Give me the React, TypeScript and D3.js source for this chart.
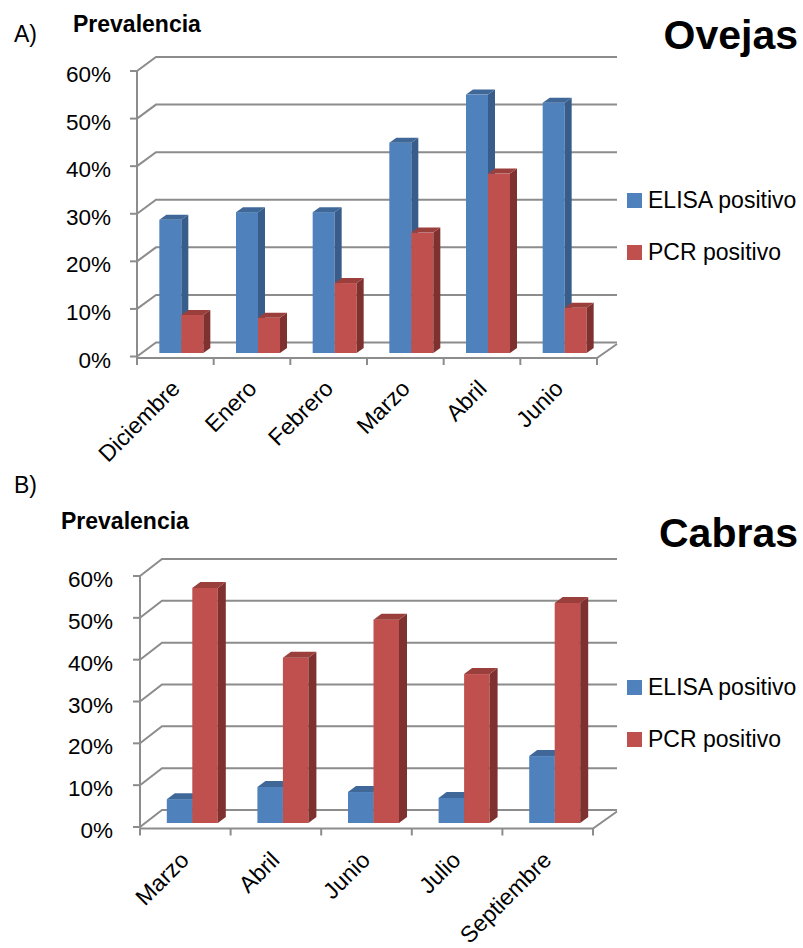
import React from 'react';
import * as d3 from 'd3';

// ---- Data ----
const ovejasCategories = ['Diciembre', 'Enero', 'Febrero', 'Marzo', 'Abril', 'Junio'];
const ovejasElisa = [0.28, 0.296, 0.296, 0.442, 0.543, 0.526];
const ovejasPcr = [0.08, 0.074, 0.147, 0.253, 0.377, 0.095];

const cabrasCategories = ['Marzo', 'Abril', 'Junio', 'Julio', 'Septiembre'];
const cabrasElisa = [0.057, 0.086, 0.074, 0.06, 0.16];
const cabrasPcr = [0.562, 0.395, 0.486, 0.356, 0.526];

const yTicks = [0, 0.1, 0.2, 0.3, 0.4, 0.5, 0.6];
const seriesNames = ['ELISA positivo', 'PCR positivo'];
const yTitle = 'Prevalencia';

// ---- Styles ----
const FONT = '"Liberation Sans", Arial, sans-serif';
const GRID = '#8c8c8c';
const COLORS = {
  'ELISA positivo': { front: '#4F81BD', side: '#385D8A', top: '#3F6899' },
  'PCR positivo': { front: '#C0504D', side: '#7E312F', top: '#9A3F3C' },
};

type Cfg = {
  letter: string; letterY: number; ytitleX: number; ytitleY: number;
  title: string; titleY: number; titleSize: number;
  x0: number; x1: number; yBottom: number; yTop: number;
  dx: number; dy: number; backX: number;
  barW: number; barDx: number; barDy: number; sx: number; sy: number;
  tickLabelX: number; legendY: number[]; labelDx: number; labelDy: number;
};

function Panel({ cfg, categories, elisa, pcr }: { cfg: Cfg; categories: string[]; elisa: number[]; pcr: number[] }) {
  const x = d3.scaleBand<string>().domain(categories).range([cfg.x0, cfg.x1]);
  const y = d3.scaleLinear().domain([0, 0.6]).range([cfg.yBottom, cfg.yTop]);
  const inner = d3.scaleBand<string>().domain(seriesNames).range([0, cfg.barW * 2]);
  const base = y(0) + cfg.barDy;
  const floorY = y(0) + 1.5;
  const boundaries = categories.map((c) => x(c) as number).concat([cfg.x1]);
  const fmt = d3.format('.0%');

  const bars: JSX.Element[] = [];
  categories.forEach((c, i) => {
    const gl = (x(c) as number) + x.bandwidth() / 2 - cfg.barW + cfg.barDx;
    [elisa[i], pcr[i]].forEach((v, k) => {
      const s = seriesNames[k];
      const col = COLORS[s];
      const l = gl + (inner(s) as number);
      const r = l + inner.bandwidth();
      const top = base - (y(0) - y(v));
      bars.push(
        <g key={c + s}>
          <rect x={l} y={top} width={r - l} height={base - top} fill={col.front} />
          <polygon
            points={`${r},${base} ${r + cfg.sx},${base + cfg.sy} ${r + cfg.sx},${top + cfg.sy} ${r},${top}`}
            fill={col.side}
          />
          <polygon
            points={`${l},${top} ${l + cfg.sx},${top + cfg.sy} ${r + cfg.sx},${top + cfg.sy} ${r},${top}`}
            fill={col.top}
          />
        </g>
      );
    });
  });

  return (
    <g>
      <text x={14} y={cfg.letterY} fontFamily={FONT} fontSize={23}>{cfg.letter}</text>
      <text x={cfg.ytitleX} y={cfg.ytitleY} fontFamily={FONT} fontSize={23} fontWeight="bold">{yTitle}</text>
      <text x={798} y={cfg.titleY} fontFamily={FONT} fontSize={cfg.titleSize} fontWeight="bold" textAnchor="end">{cfg.title}</text>

      {/* gridlines on side wall + back wall */}
      {yTicks.map((t) => (
        <g key={t}>
          <polyline
            points={`${cfg.x0},${y(t)} ${cfg.x0 + cfg.dx},${y(t) + cfg.dy} ${cfg.backX},${y(t) + cfg.dy}`}
            fill="none" stroke={GRID} strokeWidth={2}
          />
          <line x1={cfg.x0 - 7} x2={cfg.x0} y1={y(t)} y2={y(t)} stroke={GRID} strokeWidth={2} />
          <text x={cfg.tickLabelX} y={y(t) + 11} fontFamily={FONT} fontSize={22.5} textAnchor="end">{fmt(t)}</text>
        </g>
      ))}
      {/* vertical axis */}
      <line x1={cfg.x0} x2={cfg.x0} y1={y(0.6)} y2={floorY} stroke={GRID} strokeWidth={2} />
      {/* floor */}
      <polyline
        points={`${cfg.x0},${floorY} ${cfg.x1},${floorY} ${cfg.backX},${floorY + cfg.dy}`}
        fill="none" stroke={GRID} strokeWidth={2}
      />
      {boundaries.map((b, i) => (
        <line key={i} x1={b} x2={b} y1={floorY} y2={floorY + 7} stroke={GRID} strokeWidth={2} />
      ))}

      {bars}

      {/* category labels */}
      {categories.map((c) => {
        const cx = (x(c) as number) + x.bandwidth() / 2 + cfg.labelDx;
        const cy = floorY + cfg.labelDy;
        return (
          <text key={c} x={cx} y={cy} transform={`rotate(-45 ${cx} ${cy})`} textAnchor="end"
            fontFamily={FONT} fontSize={23}>{c}</text>
        );
      })}

      {/* legend */}
      {seriesNames.map((s, i) => (
        <g key={s}>
          <rect x={627} y={cfg.legendY[i] - 15} width={15} height={15} fill={COLORS[s].front} />
          <text x={648} y={cfg.legendY[i]} fontFamily={FONT} fontSize={23}>{s}</text>
        </g>
      ))}
    </g>
  );
}

const cfgA: Cfg = {
  letter: 'A)', letterY: 42, ytitleX: 73, ytitleY: 32,
  title: 'Ovejas', titleY: 49, titleSize: 41,
  x0: 137, x1: 597, yBottom: 356.5, yTop: 71,
  dx: 19, dy: -14, backX: 617,
  barW: 22, barDx: 6, barDy: -3.5, sx: 7, sy: -5,
  tickLabelX: 111, legendY: [208, 260], labelDx: 6, labelDy: 32,
};

const cfgB: Cfg = {
  letter: 'B)', letterY: 493, ytitleX: 61, ytitleY: 529,
  title: 'Cabras', titleY: 547, titleSize: 41,
  x0: 140, x1: 593, yBottom: 827, yTop: 576,
  dx: 22, dy: -17, backX: 617,
  barW: 25.5, barDx: 7, barDy: -4, sx: 8, sy: -6,
  tickLabelX: 113, legendY: [695, 747], labelDx: 5, labelDy: 33,
};

export default function App() {
  return (
    <svg width={803} height={948} style={{ position: 'absolute', left: 0, top: 0, background: '#fff' }}>
      <rect width={803} height={948} fill="#fff" />
      <Panel cfg={cfgA} categories={ovejasCategories} elisa={ovejasElisa} pcr={ovejasPcr} />
      <Panel cfg={cfgB} categories={cabrasCategories} elisa={cabrasElisa} pcr={cabrasPcr} />
    </svg>
  );
}
